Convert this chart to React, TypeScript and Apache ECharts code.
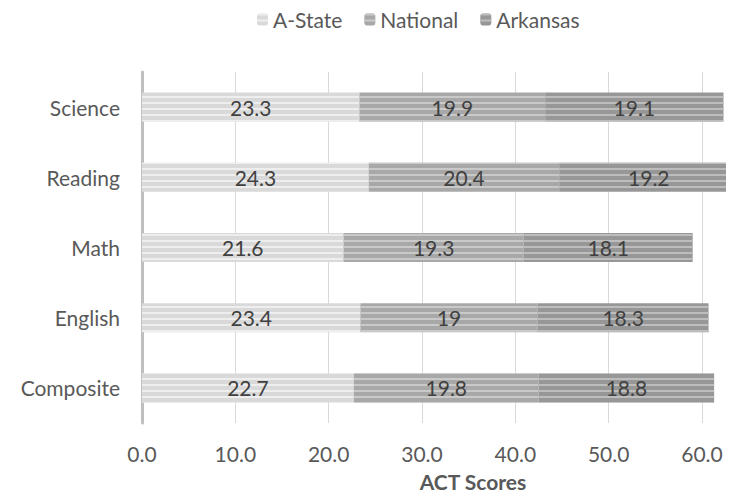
import React, { useEffect, useRef } from "react";
import * as echarts from "echarts";

const categories = ["Composite", "English", "Math", "Reading", "Science"];
const seriesNames = ["A-State", "National", "Arkansas"];
const aState = [22.7, 23.4, 21.6, 24.3, 23.3];
const national = [19.8, 19, 19.3, 20.4, 19.9];
const arkansas = [18.8, 18.3, 18.1, 19.2, 19.1];
const xTicks = { min: 0, max: 60, interval: 10 };

const FONT = "Lato, 'Open Sans', sans-serif";

export default function App() {
  const ref = useRef<HTMLDivElement>(null);
  useEffect(() => {
    if (!ref.current) return;
    const chart = echarts.init(ref.current, null, { renderer: "svg" });
    const styles = [
      { base: "#d9d9d9", stripe: "#eeeeee" },
      { base: "#a8a8a8", stripe: "#c9c9c9" },
      { base: "#979797", stripe: "#bdbdbd" },
    ];
    const values = [aState, national, arkansas];
    chart.setOption({
      animation: false,
      textStyle: { fontFamily: FONT },
      legend: {
        data: seriesNames,
        left: 252,
        top: 4,
        itemWidth: 11,
        itemHeight: 12,
        itemGap: 22,
        textStyle: { fontSize: 21, color: "#595959", fontFamily: FONT },
      },
      title: {
        text: "ACT Scores",
        left: 468,
        top: 466,
        textAlign: "center",
        textStyle: { fontSize: 21, fontWeight: "bold", color: "#595959", fontFamily: FONT },
      },
      grid: { left: 142, right: 32, top: 72, bottom: 80, containLabel: false },
      xAxis: {
        type: "value",
        min: xTicks.min,
        max: xTicks.max,
        interval: xTicks.interval,
        axisLine: { show: false },
        axisTick: { show: false },
        axisLabel: {
          formatter: (v: number) => v.toFixed(1),
          fontSize: 21,
          color: "#595959",
          margin: 20,
          fontFamily: FONT,
        },
        splitLine: { lineStyle: { color: "#d9d9d9", width: 1 } },
      },
      yAxis: {
        type: "category",
        data: categories,
        axisLine: { show: true, lineStyle: { color: "#bfbfbf", width: 3 } },
        axisTick: { show: false },
        axisLabel: { fontSize: 21, color: "#595959", margin: 22, fontFamily: FONT },
        splitLine: { show: false },
      },
      series: seriesNames.map((name, i) => ({
        name,
        type: "bar",
        stack: "total",
        barWidth: 29,
        clip: false,
        data: values[i],
        itemStyle: {
          color: styles[i].base,
          decal: {
            symbol: "rect",
            symbolSize: 1,
            color: styles[i].stripe,
            dashArrayX: [1, 0],
            dashArrayY: [1.6, 3.2],
            rotation: 0,
          },
        },
        label: {
          show: true,
          position: "inside",
          formatter: "{c}",
          fontSize: 21,
          color: "#404040",
          fontFamily: FONT,
        },
      })),
    });
    return () => chart.dispose();
  }, []);
  return <div ref={ref} style={{ width: 734, height: 503, margin: -8 }} />;
}
